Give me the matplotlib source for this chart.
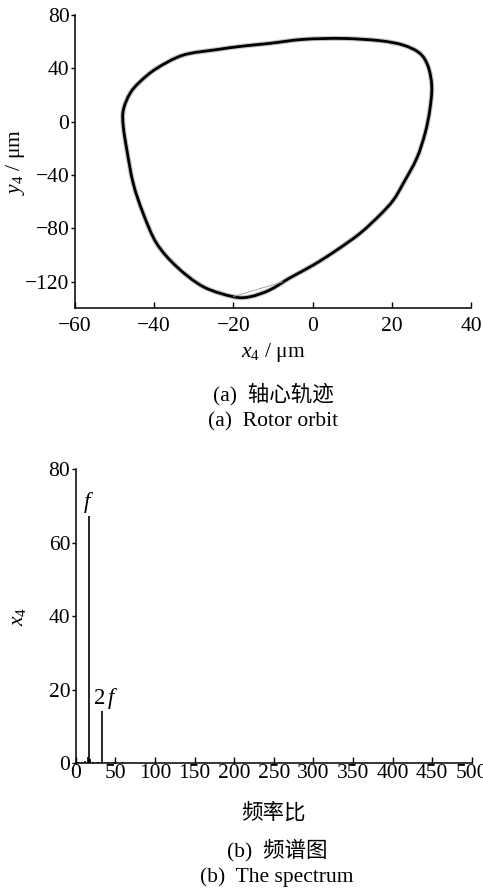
import matplotlib
matplotlib.use("Agg")
import matplotlib.pyplot as plt
from matplotlib.path import Path
from matplotlib.patches import PathPatch

plt.rcParams['font.family'] = ['Liberation Serif', 'Noto Sans CJK SC']
plt.rcParams['mathtext.fontset'] = 'custom'
plt.rcParams['mathtext.rm'] = 'Liberation Serif'
plt.rcParams['mathtext.it'] = 'Liberation Serif:italic'
plt.rcParams['axes.unicode_minus'] = True

# rotor orbit (x4, y4) in um, one loop
orbit_x = [-2.4, 7.7, 17.0, 22.9, 27.1, 29.2, 30.1, 29.6, 28.4, 26.3,
           22.9, 20.4, 17.0, 12.0, 6.1, 0.2, -5.7, -10.8, -15.8, -20.0,
           -27.6, -34.3, -39.4, -42.8, -45.3, -46.9, -47.8, -47.8, -46.1,
           -43.6, -39.4, -32.7, -24.5, -17.5, -10.8]
orbit_y = [61.8, 62.5, 60.8, 57.5, 51.3, 41.3, 26.3, 8.8, -8.7, -27.4,
           -46.2, -58.7, -69.9, -83.6, -96.2, -107.4, -117.0, -126.1, -131.2, -131.2,
           -123.7, -108.7, -91.1, -68.6, -46.2, -21.2, -3.7, 8.8, 21.3,
           30.0, 40.0, 50.0, 54.0, 56.8, 58.8]
chord_x = [-20.0, -7.5]
chord_y = [-131.0, -120.0]

# spectrum lines
freq = [3, 8, 12, 15, 16.8, 18.5, 22, 28, 33.6, 40, 48, 60, 75]
amp = [0.4, 0.3, 0.5, 1.6, 67.1, 1.2, 0.4, 0.3, 14.2, 0.3, 0.2, 0.2, 0.1]

xticks_a = [-60, -40, -20, 0, 20, 40]
yticks_a = [-120, -80, -40, 0, 40, 80]
xticks_b = list(range(0, 501, 50))
yticks_b = [0, 20, 40, 60, 80]

fig = plt.figure(figsize=(4.83, 8.89), dpi=100)
fs = 15.5


def closed_curve(xs, ys):
    # smooth closed path through the orbit points (Catmull-Rom as Bezier)
    n = len(xs)
    verts = [(xs[0], ys[0])]
    codes = [Path.MOVETO]
    for i in range(n):
        p0 = (xs[i - 1], ys[i - 1])
        p1 = (xs[i], ys[i])
        p2 = (xs[(i + 1) % n], ys[(i + 1) % n])
        p3 = (xs[(i + 2) % n], ys[(i + 2) % n])
        c1 = (p1[0] + (p2[0] - p0[0]) / 6, p1[1] + (p2[1] - p0[1]) / 6)
        c2 = (p2[0] - (p3[0] - p1[0]) / 6, p2[1] - (p3[1] - p1[1]) / 6)
        verts += [c1, c2, p2]
        codes += [Path.CURVE4] * 3
    return Path(verts, codes)


def style(ax):
    ax.spines['top'].set_visible(False)
    ax.spines['right'].set_visible(False)
    for s in ('left', 'bottom'):
        ax.spines[s].set_linewidth(1.1)
    ax.tick_params(axis='y', direction='out', length=3, width=1.0, labelsize=fs, pad=1)
    ax.tick_params(axis='x', direction='in', length=4, width=1.0, labelsize=fs)


ax1 = fig.add_axes([0.1553, 0.653, 0.8198, 0.330])
orbit = closed_curve(orbit_x, orbit_y)
ax1.add_patch(PathPatch(orbit, fill=False, edgecolor='0.55', lw=3.6, alpha=0.5))
ax1.add_patch(PathPatch(orbit, fill=False, edgecolor='black', lw=2.0))
ax1.plot(chord_x, chord_y, color='0.6', lw=0.6)
ax1.set_xlim(-60, 40)
ax1.set_ylim(-140, 80)
ax1.set_xticks(xticks_a)
ax1.set_yticks(yticks_a)
style(ax1)
ax1.tick_params(axis='x', pad=6)
ax1.set_xlabel('$x_4$ / μm', fontsize=fs, labelpad=4)
ax1.set_ylabel('$y_4$ / μm', fontsize=fs)
ax1.yaxis.set_label_coords(-0.12, 0.5)

fig.text(0.565, 1 - 394 / 889, '(a)  轴心轨迹', ha='center', va='center', fontsize=fs)
fig.text(0.565, 1 - 422 / 889, '(a)  Rotor orbit', ha='center', va='center', fontsize=fs)

ax2 = fig.add_axes([0.157, 0.1417, 0.820, 0.3307])
ax2.vlines(freq, 0, amp, color='black', lw=1.2)
ax2.plot(freq, [0] * len(freq), color='black', lw=0.8)
ax2.set_xlim(0, 500)
ax2.set_ylim(0, 80)
ax2.set_xticks(xticks_b)
ax2.set_yticks(yticks_b)
style(ax2)
ax2.tick_params(axis='x', pad=1)
ax2.set_xlabel('频率比', fontsize=fs, labelpad=14)
ax2.set_ylabel('$x_4$', fontsize=fs)
ax2.yaxis.set_label_coords(-0.12, 0.5)
ax2.text(15.5, 71.0, '$f$', ha='center', va='center', fontsize=fs + 1)
ax2.text(38, 17.5, '2$\\,f$', ha='center', va='center', fontsize=fs + 1)

fig.text(0.573, 1 - 850 / 889, '(b)  频谱图', ha='center', va='center', fontsize=fs)
fig.text(0.573, 1 - 877 / 889, '(b)  The spectrum', ha='center', va='center', fontsize=fs)

fig.savefig('out.png', dpi=100)
